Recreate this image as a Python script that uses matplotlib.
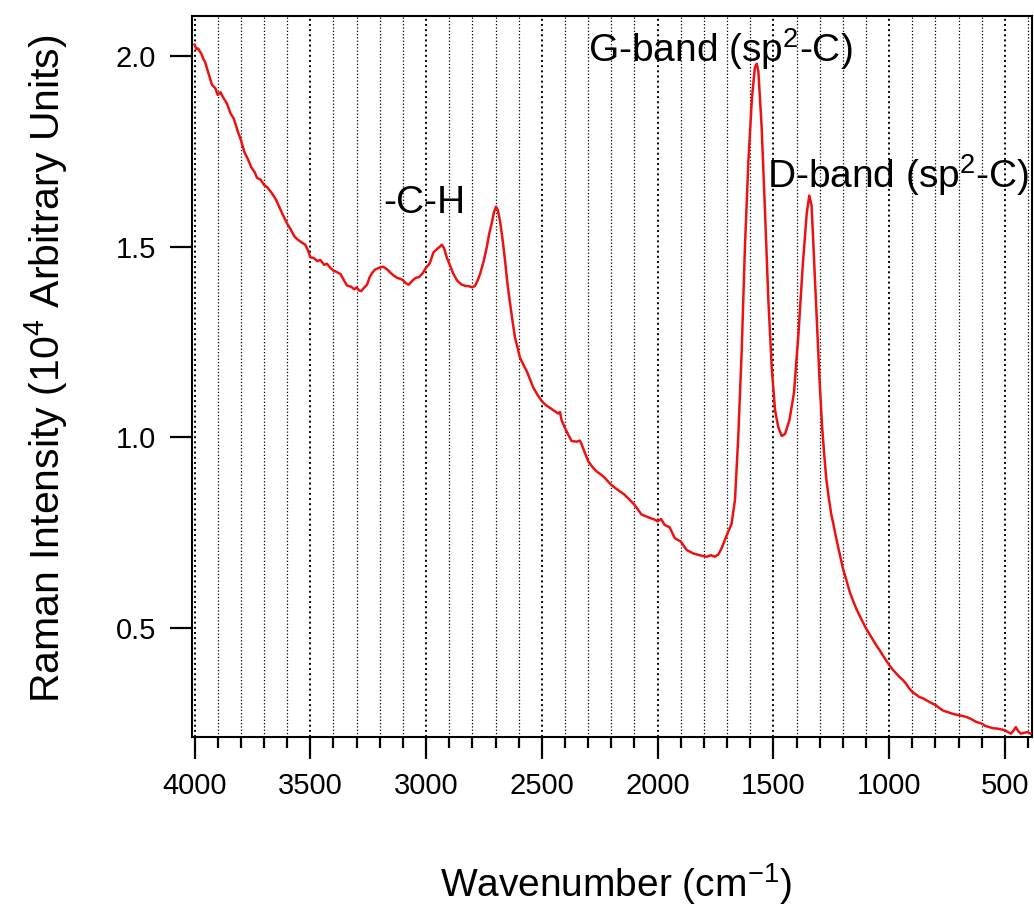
import matplotlib
matplotlib.use("Agg")
import matplotlib.pyplot as plt
from matplotlib.ticker import MultipleLocator, FixedLocator

plt.rcParams['font.family'] = ['Liberation Sans', 'DejaVu Sans']
plt.rcParams['mathtext.fontset'] = 'custom'
plt.rcParams['mathtext.rm'] = 'Liberation Sans'
plt.rcParams['mathtext.default'] = 'regular'

# Raman spectrum: wavenumber (cm^-1) and intensity (10^4 arbitrary units)
wavenumber = [
    4000, 3992, 3985, 3970, 3962, 3955, 3940, 3932, 3925, 3910, 3900, 3888, 3875, 3860, 3845, 3830, 3815,
    3800, 3785, 3770, 3755, 3740, 3730, 3715, 3700, 3685, 3666, 3650, 3637, 3620, 3600,
    3585, 3570, 3558, 3540, 3522, 3510, 3500, 3485, 3470, 3457, 3440, 3428, 3415, 3400,
    3385, 3370, 3355, 3342, 3325, 3310, 3300, 3290, 3280, 3268, 3255, 3245, 3234, 3220,
    3200, 3185, 3168, 3155, 3140, 3125, 3110, 3100, 3088, 3075, 3060, 3045, 3030, 3015,
    3000, 2985, 2968, 2950, 2940, 2932, 2922, 2911, 2895, 2882, 2865, 2846, 2830, 2815,
    2800, 2789, 2778, 2767, 2752, 2738, 2727, 2717, 2707, 2698, 2690, 2681, 2670, 2659,
    2650, 2641, 2628, 2616, 2605, 2595, 2580, 2566, 2550, 2537, 2520, 2501, 2485, 2466,
    2450, 2430, 2422, 2415, 2401, 2385, 2372, 2350, 2336, 2329, 2315, 2300, 2282, 2264, 2245, 2228,
    2215, 2201, 2182, 2164, 2145, 2128, 2115, 2101, 2085, 2070, 2050, 2034, 2015, 2000,
    1985, 1970, 1948, 1926, 1900, 1875, 1847, 1818, 1789, 1770, 1753, 1738, 1724, 1700,
    1681, 1666, 1652, 1637, 1623, 1608, 1593, 1580, 1572, 1565, 1551, 1536, 1522, 1507,
    1493, 1479, 1464, 1450, 1431, 1411, 1392, 1373, 1356, 1345, 1335, 1320, 1301, 1290,
    1280, 1272, 1262, 1250, 1241, 1229, 1219, 1200, 1185, 1171, 1157, 1143, 1120, 1100,
    1078, 1056, 1040, 1028, 1014, 1000, 985, 970, 956, 940, 927, 915, 901, 885,
    870, 855, 841, 820, 800, 785, 769, 750, 726, 712, 700, 685, 668, 645,
    625, 610, 599, 585, 568, 550, 532, 515, 500, 487, 474, 463, 453, 442,
    431, 418, 403, 390,
]
intensity = [
    2.030, 2.018, 2.020, 2.005, 1.992, 1.985, 1.955, 1.940, 1.925, 1.915, 1.898, 1.905, 1.890, 1.875, 1.850, 1.835, 1.805,
    1.780, 1.748, 1.730, 1.708, 1.695, 1.680, 1.676, 1.662, 1.655, 1.640, 1.625, 1.608, 1.585, 1.560,
    1.545, 1.528, 1.520, 1.512, 1.505, 1.490, 1.472, 1.470, 1.462, 1.465, 1.452, 1.455, 1.445, 1.437,
    1.433, 1.428, 1.412, 1.398, 1.395, 1.388, 1.393, 1.385, 1.383, 1.392, 1.400, 1.418, 1.430, 1.440,
    1.445, 1.447, 1.440, 1.432, 1.424, 1.418, 1.415, 1.412, 1.404, 1.400, 1.410, 1.418, 1.420, 1.430,
    1.445, 1.455, 1.485, 1.495, 1.500, 1.505, 1.495, 1.472, 1.448, 1.428, 1.410, 1.400, 1.397, 1.396,
    1.393, 1.397, 1.410, 1.428, 1.460, 1.498, 1.535, 1.560, 1.590, 1.605, 1.595, 1.568, 1.520, 1.463,
    1.410, 1.367, 1.310, 1.261, 1.235, 1.209, 1.190, 1.174, 1.150, 1.130, 1.112, 1.095, 1.085, 1.077,
    1.070, 1.062, 1.066, 1.045, 1.025, 1.005, 0.990, 0.988, 0.991, 0.982, 0.960, 0.937, 0.922, 0.910, 0.902, 0.893,
    0.884, 0.875, 0.866, 0.858, 0.850, 0.840, 0.832, 0.823, 0.810, 0.797, 0.792, 0.788, 0.784, 0.779,
    0.785, 0.770, 0.763, 0.735, 0.726, 0.704, 0.695, 0.690, 0.686, 0.690, 0.686, 0.692, 0.708, 0.745,
    0.772, 0.835, 0.998, 1.226, 1.498, 1.725, 1.888, 1.970, 1.980, 1.960, 1.816, 1.588, 1.362, 1.180,
    1.071, 1.026, 1.003, 1.008, 1.044, 1.117, 1.270, 1.453, 1.588, 1.634, 1.607, 1.407, 1.153, 1.030,
    0.950, 0.893, 0.845, 0.797, 0.772, 0.735, 0.708, 0.656, 0.625, 0.595, 0.572, 0.551, 0.522, 0.498,
    0.476, 0.454, 0.440, 0.428, 0.415, 0.402, 0.390, 0.380, 0.371, 0.362, 0.353, 0.342, 0.332, 0.325,
    0.318, 0.315, 0.310, 0.303, 0.297, 0.290, 0.283, 0.279, 0.274, 0.272, 0.270, 0.268, 0.266, 0.260,
    0.253, 0.250, 0.248, 0.242, 0.239, 0.236, 0.235, 0.233, 0.231, 0.226, 0.222, 0.230, 0.239, 0.228,
    0.222, 0.224, 0.226, 0.222,
]

x_major_ticks = [4000, 3500, 3000, 2500, 2000, 1500, 1000, 500]
y_ticks = [0.5, 1.0, 1.5, 2.0]
y_tick_labels = ["0.5", "1.0", "1.5", "2.0"]

band_labels = [
    ("-C-H", 3186, 1.587),
    ("G-band (sp$^{2}$-C)", 2301, 1.985),
    ("D-band (sp$^{2}$-C)", 1527, 1.655),
]

fig = plt.figure(figsize=(10.34, 9.06), dpi=100)
ax = fig.add_axes([0.1857, 0.1865, 0.8124, 0.7958])

ax.plot(wavenumber, intensity, color="#ec1212", lw=1.8, zorder=3)

ax.set_xlim(4011, 383)
ax.set_ylim(0.213, 2.105)

ax.xaxis.set_major_locator(FixedLocator(x_major_ticks))
ax.xaxis.set_minor_locator(MultipleLocator(100))
ax.set_yticks(y_ticks)
ax.set_yticklabels(y_tick_labels)

ax.grid(which="minor", axis="x", color="black", linestyle=":", lw=0.9, zorder=1)
ax.grid(which="major", axis="x", color="black", linestyle=":", lw=1.4, zorder=1)

for s in ax.spines.values():
    s.set_linewidth(1.5)

ax.tick_params(axis="x", which="major", direction="out", length=16, width=1.6,
               labelsize=21, pad=9)
ax.tick_params(axis="x", which="minor", direction="out", length=8, width=1.6)
ax.tick_params(axis="y", which="major", direction="out", length=16, width=1.6,
               labelsize=21, pad=10)

ax.set_xlabel("Wavenumber (cm$^{-1}$)", fontsize=28, labelpad=44)
ax.xaxis.label.set_x(0.505)
ax.set_ylabel("Raman Intensity (10$^{4}$ Arbitrary Units)", fontsize=29.5,
              labelpad=33)
ax.yaxis.label.set_y(0.511)

for text, xw, yv in band_labels:
    ax.text(xw, yv, text, fontsize=28, ha="left", va="baseline", zorder=4)

fig.savefig("out.png", dpi=100)
